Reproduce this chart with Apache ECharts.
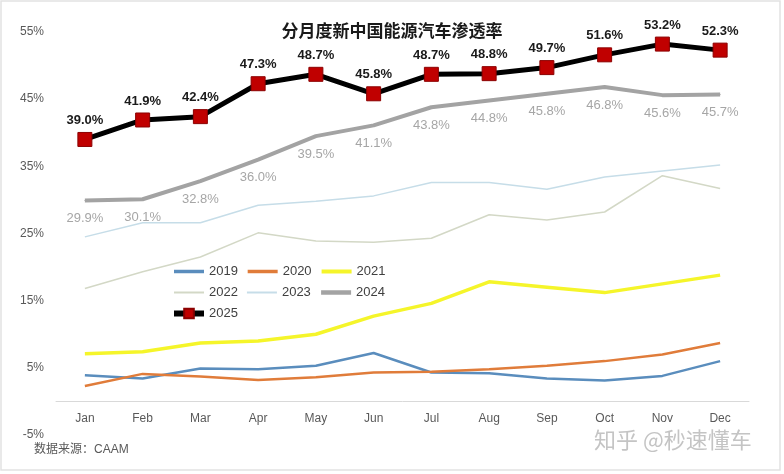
<!DOCTYPE html>
<html>
<head>
<meta charset="utf-8">
<script src="https://cdn.jsdelivr.net/npm/echarts@6/dist/echarts.min.js"></script>
<style>
  html, body { margin: 0; padding: 0; background: #fff; }
  #main { width: 784px; height: 474px; }
</style>
</head>
<body>
<div id="main"></div>
<script>
  // months on the x axis
  const months = ['Jan', 'Feb', 'Mar', 'Apr', 'May', 'Jun', 'Jul', 'Aug', 'Sep', 'Oct', 'Nov', 'Dec']
  // y tick labels (percent)
  const yTicks = [-5, 5, 15, 25, 35, 45, 55]
  const years = ['2019', '2020', '2021', '2022', '2023', '2024', '2025']

  // penetration rate by year, %
  const y2019 = [3.9, 3.4, 4.9, 4.8, 5.3, 7.2, 4.3, 4.2, 3.4, 3.1, 3.8, 6.0]
  const y2020 = [2.3, 4.1, 3.7, 3.2, 3.6, 4.3, 4.4, 4.8, 5.3, 6.0, 7.0, 8.7]
  const y2021 = [7.1, 7.4, 8.7, 9.0, 10.0, 12.7, 14.6, 17.8, 17.0, 16.2, 17.5, 18.8]
  const y2022 = [16.8, 19.3, 21.5, 25.1, 23.9, 23.7, 24.3, 27.8, 27.0, 28.2, 33.6, 31.7]
  const y2023 = [24.5, 26.6, 26.6, 29.2, 29.8, 30.6, 32.6, 32.6, 31.6, 33.4, 34.3, 35.2]
  const y2024 = [29.9, 30.1, 32.8, 36.0, 39.5, 41.1, 43.8, 44.8, 45.8, 46.8, 45.6, 45.7]
  const y2025 = [39.0, 41.9, 42.4, 47.3, 48.7, 45.8, 48.7, 48.8, 49.7, 51.6, 53.2, 52.3]

  const fontFamily = '"Liberation Sans", Arial, "Noto Sans CJK SC", sans-serif'
  const cjkFont = '"Noto Sans CJK SC", "Liberation Sans", sans-serif'

  function plainLine (name, data, color, width) {
    return {
      name,
      type: 'line',
      data,
      symbol: 'none',
      lineStyle: { color, width },
      itemStyle: { color },
      z: 2
    }
  }

  // legend line thickness, a bit heavier than the series like in the original
  const legendWidths = { '2019': 3.5, '2020': 3.5, '2021': 4, '2022': 2, '2023': 2, '2024': 4.5, '2025': 6 }

  const chart = echarts.init(document.getElementById('main'))
  const option = {
    backgroundColor: '#fff',
    animation: false,
    textStyle: { fontFamily },
    title: {
      text: '分月度新中国能源汽车渗透率',
      left: 'center',
      top: 17,
      textStyle: { fontFamily: cjkFont, fontSize: 17, fontWeight: 'bold', color: '#1a1a1a' }
    },
    legend: {
      left: 166,
      top: 260,
      width: 215,
      itemWidth: 30,
      itemHeight: 12,
      itemGap: 8,
      textStyle: { fontSize: 13, color: '#404040', fontFamily },
      // hide the symbol on the plain lines, keep the red square for 2025
      data: years.map(y => y === '2025'
        ? { name: y, lineStyle: { width: legendWidths[y] } }
        : { name: y, itemStyle: { opacity: 0 }, lineStyle: { width: legendWidths[y] } })
    },
    grid: { left: 56, right: 35, top: 32, bottom: 39, containLabel: false },
    xAxis: {
      type: 'category',
      data: months,
      boundaryGap: true,
      offset: -33.5,
      axisLine: { onZero: false, lineStyle: { color: '#d9d9d9', width: 1 } },
      axisTick: { show: false },
      axisLabel: { margin: 11, fontSize: 12, color: '#595959' },
      splitLine: { show: false }
    },
    yAxis: {
      type: 'value',
      min: -5,
      max: 55,
      axisLine: { show: false },
      axisTick: { show: false },
      splitLine: { show: false },
      axisLabel: {
        customValues: yTicks,
        margin: 12,
        fontSize: 12,
        color: '#595959',
        formatter: v => v + '%'
      }
    },
    series: [
      plainLine('2019', y2019, '#5a8dbd', 2.5),
      plainLine('2020', y2020, '#e07c3a', 2.5),
      plainLine('2021', y2021, '#f5f52a', 3.5),
      plainLine('2022', y2022, '#d3d8c6', 1.5),
      plainLine('2023', y2023, '#c6dde8', 1.5),
      {
        name: '2024',
        type: 'line',
        data: y2024,
        symbol: 'circle',
        symbolSize: 1,
        lineStyle: { color: '#a3a3a3', width: 4 },
        itemStyle: { color: '#a3a3a3' },
        label: {
          show: true,
          position: 'bottom',
          distance: 11,
          fontSize: 13,
          color: '#a6a6a6',
          formatter: p => p.value.toFixed(1) + '%'
        },
        z: 3
      },
      {
        name: '2025',
        type: 'line',
        data: y2025,
        symbol: 'rect',
        symbolSize: 14,
        lineStyle: { color: '#000', width: 5 },
        itemStyle: { color: '#c00000', borderColor: '#8b0000', borderWidth: 1 },
        label: {
          show: true,
          position: 'top',
          distance: 5,
          fontSize: 13,
          fontWeight: 'bold',
          color: '#1a1a1a',
          formatter: p => p.value.toFixed(1) + '%'
        },
        z: 4
      }
    ],
    graphic: [
      {
        type: 'rect',
        shape: { x: 1, y: 1, width: 779, height: 469 },
        style: { fill: 'none', stroke: '#e2e2e2', lineWidth: 1.5 },
        silent: true
      },
      {
        type: 'text',
        left: 34,
        top: 444,
        style: { text: '数据来源：CAAM', fontSize: 12, fill: '#595959', fontFamily }
      },
      {
        type: 'text',
        left: 594,
        top: 429,
        style: { text: '知乎 @秒速懂车', fontSize: 22, fill: '#c4c4c4', fontFamily: cjkFont }
      }
    ]
  }
  chart.setOption(option)
</script>
</body>
</html>
